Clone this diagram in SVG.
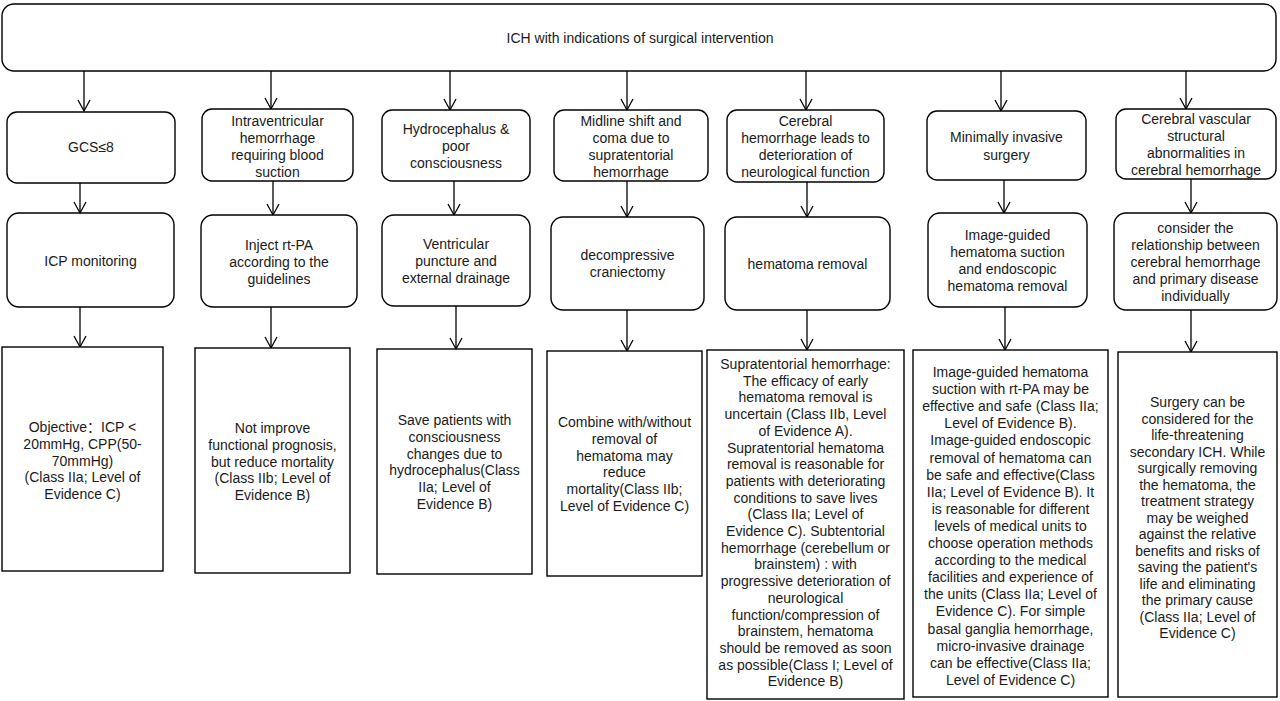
<svg xmlns="http://www.w3.org/2000/svg" width="1280" height="701" viewBox="0 0 1280 701">
<defs>
<marker id="arr" markerWidth="14" markerHeight="14" refX="12" refY="7" orient="auto" markerUnits="userSpaceOnUse" viewBox="0 0 14 14">
<polyline points="1,1 12,7 1,13" fill="none" stroke="#000" stroke-width="1.3"/>
</marker>
<style>
.n{fill:#fff;stroke:#000;stroke-width:1.4}
.t{font-family:"Liberation Sans",Arial,"Noto Sans CJK SC",sans-serif;font-size:14px;fill:#1a1a1a;text-anchor:middle}
.c line{stroke:#000;stroke-width:1.3;marker-end:url(#arr)}
</style>
</defs>
<rect width="1280" height="701" fill="#fff"/>
<g class="c" id="connectors">
<line x1="84" y1="71" x2="84" y2="111"/>
<line x1="271" y1="71" x2="271" y2="109"/>
<line x1="450" y1="71" x2="450" y2="110"/>
<line x1="627" y1="71" x2="627" y2="110"/>
<line x1="806" y1="71" x2="806" y2="110"/>
<line x1="1001" y1="71" x2="1001" y2="111"/>
<line x1="1186" y1="71" x2="1186" y2="109"/>
<line x1="80" y1="183" x2="80" y2="213"/>
<line x1="273" y1="181" x2="273" y2="215"/>
<line x1="454" y1="181" x2="454" y2="215"/>
<line x1="627" y1="181" x2="627" y2="217"/>
<line x1="807" y1="182" x2="807" y2="217"/>
<line x1="1004" y1="180" x2="1004" y2="213"/>
<line x1="1191" y1="179" x2="1191" y2="213"/>
<line x1="80" y1="307" x2="80" y2="347"/>
<line x1="271" y1="307" x2="271" y2="348"/>
<line x1="456" y1="306" x2="456" y2="349"/>
<line x1="627" y1="310" x2="627" y2="351"/>
<line x1="807" y1="310" x2="807" y2="350"/>
<line x1="1005" y1="307" x2="1005" y2="350"/>
<line x1="1191" y1="310" x2="1191" y2="352"/>
</g>
<g id="top"><rect class="n" x="2" y="4" width="1274" height="67" rx="12"/><text class="t" x="640" y="43">ICH with indications of surgical intervention</text></g>

<g id="gcs"><rect class="n" x="7" y="112" width="168" height="71" rx="10"/><text class="t" x="91" y="152">GCS≤8</text></g>
<g id="ivh"><rect class="n" x="202" y="109" width="151" height="72" rx="10"/><text class="t" y="126"><tspan x="277.5">Intraventricular</tspan><tspan x="277.5" dy="17">hemorrhage</tspan><tspan x="277.5" dy="17">requiring blood</tspan><tspan x="277.5" dy="17">suction</tspan></text></g>
<g id="hydro"><rect class="n" x="382" y="110" width="148" height="71" rx="10"/><text class="t" y="134"><tspan x="456">Hydrocephalus &amp;</tspan><tspan x="456" dy="17">poor</tspan><tspan x="456" dy="17">consciousness</tspan></text></g>
<g id="midline"><rect class="n" x="554" y="110" width="154" height="71" rx="10"/><text class="t" y="126"><tspan x="631">Midline shift  and</tspan><tspan x="631" dy="17">coma due to</tspan><tspan x="631" dy="17">supratentorial</tspan><tspan x="631" dy="17">hemorrhage</tspan></text></g>
<g id="cereb"><rect class="n" x="727" y="110" width="157" height="72" rx="10"/><text class="t" y="126"><tspan x="805.5">Cerebral</tspan><tspan x="805.5" dy="17">hemorrhage leads to</tspan><tspan x="805.5" dy="17">deterioration of</tspan><tspan x="805.5" dy="17">neurological function</tspan></text></g>
<g id="mis"><rect class="n" x="927" y="111" width="159" height="69" rx="10"/><text class="t" y="142"><tspan x="1006.5">Minimally invasive</tspan><tspan x="1006.5" dy="18">surgery</tspan></text></g>
<g id="vasc"><rect class="n" x="1116" y="109" width="160" height="70" rx="10"/><text class="t" y="124"><tspan x="1196">Cerebral vascular</tspan><tspan x="1196" dy="17">structural</tspan><tspan x="1196" dy="17">abnormalities in</tspan><tspan x="1196" dy="17">cerebral hemorrhage</tspan></text></g>

<g id="icp"><rect class="n" x="7" y="213" width="167" height="94" rx="12"/><text class="t" x="90.5" y="266">ICP monitoring</text></g>
<g id="rtpa"><rect class="n" x="201" y="215" width="156" height="92" rx="12"/><text class="t" y="250"><tspan x="279">Inject rt-PA</tspan><tspan x="279" dy="17">according to the</tspan><tspan x="279" dy="17">guidelines</tspan></text></g>
<g id="vent"><rect class="n" x="382" y="215" width="148" height="91" rx="12"/><text class="t" y="249"><tspan x="456">Ventricular</tspan><tspan x="456" dy="17">puncture and</tspan><tspan x="456" dy="17">external drainage</tspan></text></g>
<g id="decomp"><rect class="n" x="551" y="217" width="153" height="93" rx="12"/><text class="t" y="260"><tspan x="627.5">decompressive</tspan><tspan x="627.5" dy="17">craniectomy</tspan></text></g>
<g id="hrem"><rect class="n" x="725" y="217" width="165" height="93" rx="12"/><text class="t" x="807.5" y="269">hematoma removal</text></g>
<g id="igs"><rect class="n" x="928" y="213" width="159" height="94" rx="12"/><text class="t" y="240"><tspan x="1007.5">Image-guided</tspan><tspan x="1007.5" dy="17">hematoma suction</tspan><tspan x="1007.5" dy="17">and endoscopic</tspan><tspan x="1007.5" dy="17">hematoma removal</tspan></text></g>
<g id="consider"><rect class="n" x="1114" y="213" width="163" height="97" rx="12"/><text class="t" y="233"><tspan x="1195.5">consider the</tspan><tspan x="1195.5" dy="17">relationship between</tspan><tspan x="1195.5" dy="17">cerebral hemorrhage</tspan><tspan x="1195.5" dy="17">and primary disease</tspan><tspan x="1195.5" dy="17">individually</tspan></text></g>

<g id="r1"><rect class="n" x="2" y="347" width="161" height="224"/><text class="t" y="432"><tspan x="82.5">Objective：ICP &lt;</tspan><tspan x="82.5" dy="16.8">20mmHg, CPP(50-</tspan><tspan x="82.5" dy="16.8">70mmHg)</tspan><tspan x="82.5" dy="16.8">(Class IIa; Level of</tspan><tspan x="82.5" dy="16.8">Evidence C)</tspan></text></g>
<g id="r2"><rect class="n" x="195" y="348" width="155" height="225"/><text class="t" y="433"><tspan x="272.5">Not improve</tspan><tspan x="272.5" dy="16.8">functional prognosis,</tspan><tspan x="272.5" dy="16.8">but reduce mortality</tspan><tspan x="272.5" dy="16.8">(Class IIb; Level of</tspan><tspan x="272.5" dy="16.8">Evidence B)</tspan></text></g>
<g id="r3"><rect class="n" x="377" y="349" width="155" height="225"/><text class="t" y="425"><tspan x="454.5">Save patients with</tspan><tspan x="454.5" dy="16.8">consciousness</tspan><tspan x="454.5" dy="16.8">changes due to</tspan><tspan x="454.5" dy="16.8">hydrocephalus(Class</tspan><tspan x="454.5" dy="16.8">IIa; Level of</tspan><tspan x="454.5" dy="16.8">Evidence B)</tspan></text></g>
<g id="r4"><rect class="n" x="547" y="351" width="155" height="225"/><text class="t" y="427"><tspan x="624.5">Combine with/without</tspan><tspan x="624.5" dy="16.8">removal of</tspan><tspan x="624.5" dy="16.8">hematoma may</tspan><tspan x="624.5" dy="16.8">reduce</tspan><tspan x="624.5" dy="16.8">mortality(Class IIb;</tspan><tspan x="624.5" dy="16.8">Level of Evidence C)</tspan></text></g>
<g id="r5"><rect class="n" x="707" y="350" width="197" height="349"/><text class="t" y="369"><tspan x="805.5">Supratentorial hemorrhage:</tspan><tspan x="805.5" dy="16.7">The efficacy of early</tspan><tspan x="805.5" dy="16.7">hematoma removal is</tspan><tspan x="805.5" dy="16.7">uncertain (Class IIb, Level</tspan><tspan x="805.5" dy="16.7">of Evidence A).</tspan><tspan x="805.5" dy="16.7">Supratentorial hematoma</tspan><tspan x="805.5" dy="16.7">removal is reasonable for</tspan><tspan x="805.5" dy="16.7">patients with deteriorating</tspan><tspan x="805.5" dy="16.7">conditions to save lives</tspan><tspan x="805.5" dy="16.7">(Class IIa; Level of</tspan><tspan x="805.5" dy="16.7">Evidence C). Subtentorial</tspan><tspan x="805.5" dy="16.7">hemorrhage (cerebellum or</tspan><tspan x="805.5" dy="16.7">brainstem) : with</tspan><tspan x="805.5" dy="16.7">progressive deterioration of</tspan><tspan x="805.5" dy="16.7">neurological</tspan><tspan x="805.5" dy="16.7">function/compression of</tspan><tspan x="805.5" dy="16.7">brainstem, hematoma</tspan><tspan x="805.5" dy="16.7">should be removed as soon</tspan><tspan x="805.5" dy="16.7">as possible(Class I; Level of</tspan><tspan x="805.5" dy="16.7">Evidence B)</tspan></text></g>
<g id="r6"><rect class="n" x="913" y="350" width="195" height="347"/><text class="t" y="377"><tspan x="1010.5">Image-guided hematoma</tspan><tspan x="1010.5" dy="17.1">suction with rt-PA may be</tspan><tspan x="1010.5" dy="17.1">effective and safe (Class IIa;</tspan><tspan x="1010.5" dy="17.1">Level of Evidence B).</tspan><tspan x="1010.5" dy="17.1">Image-guided endoscopic</tspan><tspan x="1010.5" dy="17.1">removal of hematoma can</tspan><tspan x="1010.5" dy="17.1">be safe and effective(Class</tspan><tspan x="1010.5" dy="17.1">IIa; Level of Evidence B). It</tspan><tspan x="1010.5" dy="17.1">is reasonable for different</tspan><tspan x="1010.5" dy="17.1">levels of medical units to</tspan><tspan x="1010.5" dy="17.1">choose operation methods</tspan><tspan x="1010.5" dy="17.1">according to the medical</tspan><tspan x="1010.5" dy="17.1">facilities and experience of</tspan><tspan x="1010.5" dy="17.1">the units (Class IIa; Level of</tspan><tspan x="1010.5" dy="17.1">Evidence C). For simple</tspan><tspan x="1010.5" dy="17.1">basal ganglia hemorrhage,</tspan><tspan x="1010.5" dy="17.1">micro-invasive drainage</tspan><tspan x="1010.5" dy="17.1">can be effective(Class IIa;</tspan><tspan x="1010.5" dy="17.1">Level of Evidence C)</tspan></text></g>
<g id="r7"><rect class="n" x="1118" y="352" width="159" height="345"/><text class="t" y="407"><tspan x="1197.5">Surgery can be</tspan><tspan x="1197.5" dy="16.5">considered for the</tspan><tspan x="1197.5" dy="16.5">life-threatening</tspan><tspan x="1197.5" dy="16.5">secondary ICH. While</tspan><tspan x="1197.5" dy="16.5">surgically removing</tspan><tspan x="1197.5" dy="16.5">the hematoma, the</tspan><tspan x="1197.5" dy="16.5">treatment strategy</tspan><tspan x="1197.5" dy="16.5">may be weighed</tspan><tspan x="1197.5" dy="16.5">against the relative</tspan><tspan x="1197.5" dy="16.5">benefits and risks of</tspan><tspan x="1197.5" dy="16.5">saving the patient's</tspan><tspan x="1197.5" dy="16.5">life and eliminating</tspan><tspan x="1197.5" dy="16.5">the primary cause</tspan><tspan x="1197.5" dy="16.5">(Class IIa; Level of</tspan><tspan x="1197.5" dy="16.5">Evidence C)</tspan></text></g>
</svg>
